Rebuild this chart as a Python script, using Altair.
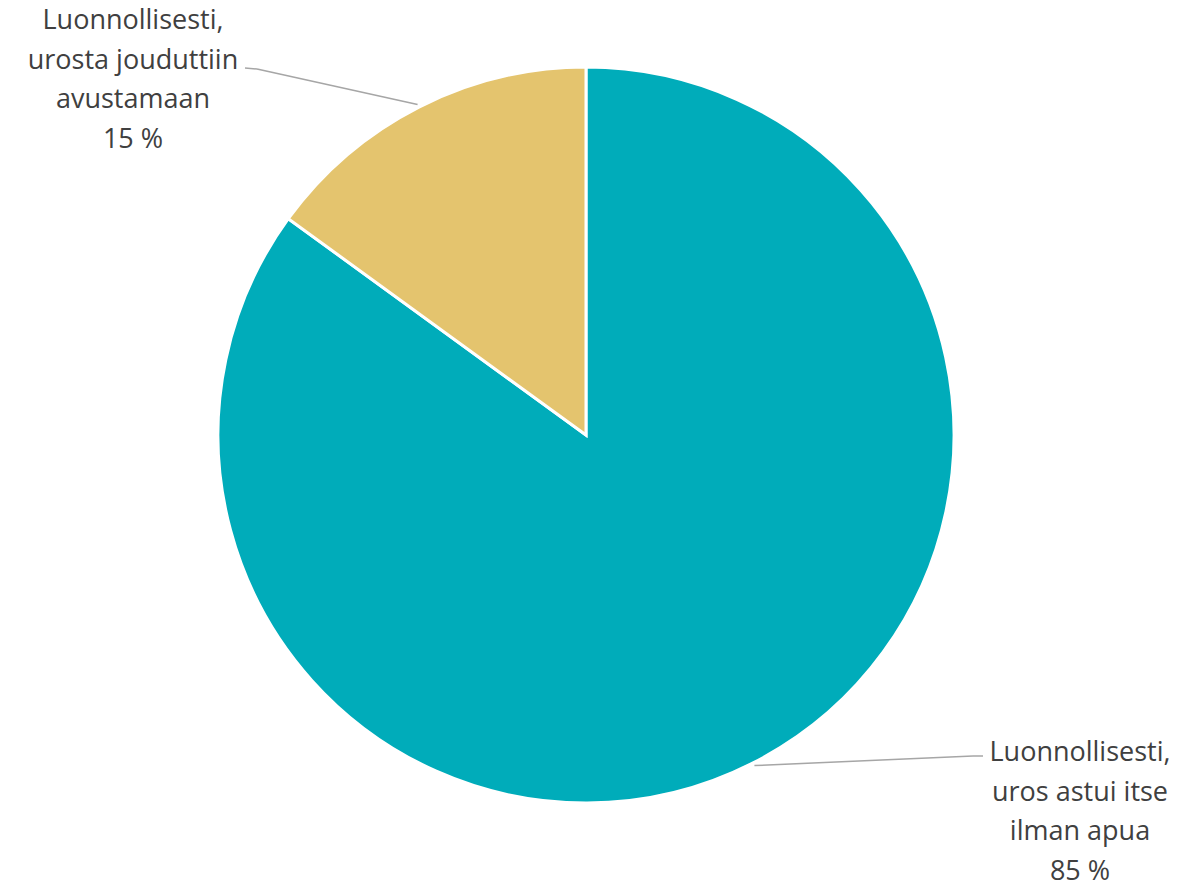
import math
import altair as alt
import pandas as pd

categories = ["Luonnollisesti, uros astui itse ilman apua",
              "Luonnollisesti, urosta jouduttiin avustamaan"]
label_lines = [["Luonnollisesti,", "uros astui itse", "ilman apua", "85 %"],
               ["Luonnollisesti,", "urosta jouduttiin", "avustamaan", "15 %"]]
values = [85, 15]
colors = ["#00ACBA", "#E4C46E"]

W, H = 1175, 878
CX, CY, R = 578, 427, 368

pie = pd.DataFrame({"cat": categories, "value": values, "order": [0, 1]})

# label block positions (centre x, first line middle y) and leader-line elbows (layout)
label_x = [1072, 125]
label_y = [745, 13]
elbow = [(965, 748), (249, 61)]
line_end = [(975, 748), (237, 60)]

total = sum(values)
cum = 0
rows_rule = []
rows_text = []
for i, v in enumerate(values):
    mid = (cum + v / 2) / total * 2 * math.pi
    cum += v
    sx = CX + (R + 3) * math.sin(mid)
    sy = CY - (R + 3) * math.cos(mid)
    ex, ey = elbow[i]
    rows_rule.append({"x": sx, "y": sy, "x2": ex, "y2": ey})
    rows_rule.append({"x": ex, "y": ey, "x2": line_end[i][0], "y2": line_end[i][1]})
    rows_text.append({"x": label_x[i], "y": label_y[i], "t": "\n".join(label_lines[i])})

arc = alt.Chart(pie).mark_arc(outerRadius=R, stroke="white", strokeWidth=3).encode(
    theta=alt.Theta("value:Q", stack=True),
    order=alt.Order("order:Q"),
    color=alt.Color("cat:N", scale=alt.Scale(domain=categories, range=colors), legend=None),
    x=alt.value(CX),
    y=alt.value(CY),
)

rules = alt.Chart(pd.DataFrame(rows_rule)).mark_rule(color="#A6A6A6", strokeWidth=1.5).encode(
    x=alt.X("x:Q", scale=None), y=alt.Y("y:Q", scale=None),
    x2="x2:Q", y2="y2:Q",
)

texts = alt.Chart(pd.DataFrame(rows_text)).mark_text(
    font="Open Sans", fontSize=27, color="#404040", align="center", baseline="middle",
    lineBreak="\n", lineHeight=39.5,
).encode(
    x=alt.X("x:Q", scale=None), y=alt.Y("y:Q", scale=None), text="t:N",
)

chart = alt.layer(arc, rules, texts).properties(
    width=W, height=H, padding=0,
    autosize=alt.AutoSizeParams(type="none"),
).configure_view(stroke=None)

chart.save("out.html", embed_options={"renderer": "svg", "actions": False})
